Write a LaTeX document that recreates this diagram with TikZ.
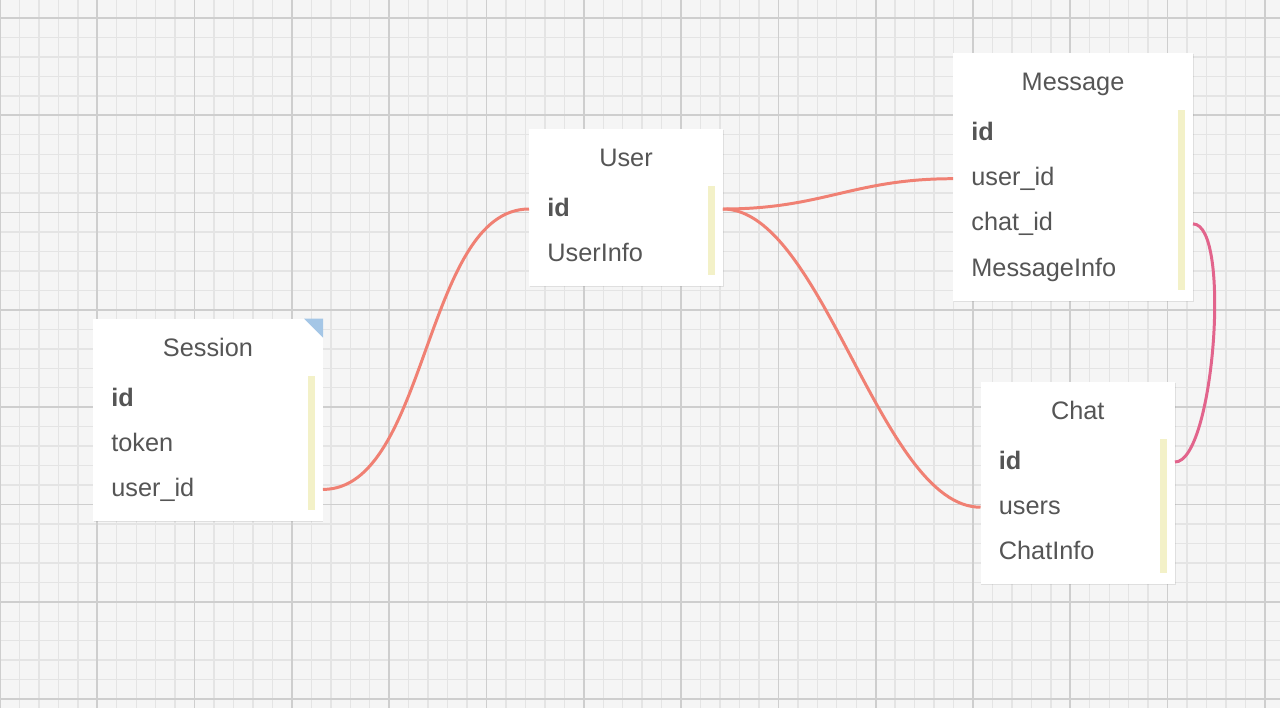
\documentclass[tikz,border=0pt]{standalone}
\usepackage{fontspec}
\setmainfont{Liberation Sans}
\usetikzlibrary{shadows}
\definecolor{gridbg}{RGB}{245,245,245}
\definecolor{minorline}{RGB}{228,228,228}
\definecolor{majorline}{RGB}{206,206,206}
\definecolor{textgray}{RGB}{85,85,85}
\definecolor{refline}{RGB}{240,128,115}
\definecolor{pinkline}{RGB}{226,100,140}
\definecolor{keybar}{RGB}{243,241,200}
\definecolor{notecorner}{RGB}{164,198,230}
\begin{document}
\begin{tikzpicture}[x=0.02cm,y=-0.02cm,
		minorgrid/.style={line width=0.8pt,minorline},
		majorgrid/.style={line width=1pt,majorline},
		table/.style 2 args={draw=none,fill=white,anchor=north west,inner sep=0,outer sep=0,
			minimum width=#1,minimum height=#2,
			drop shadow={opacity=0.18,shadow xshift=0.3pt,shadow yshift=-0.8pt}},
		title/.style={anchor=base,inner sep=0,text=textgray,font=\fontsize{14.4}{17}\selectfont},
		field/.style={anchor=west,inner sep=0,text height=0.36cm,text depth=0.08cm,
			text=textgray,font=\fontsize{14.4}{17}\selectfont},
		keyfield/.style={field,font=\fontsize{14.4}{17}\selectfont\bfseries},
		relline/.style={draw=refline,line width=1.7pt},
		chatline/.style={draw=pinkline,line width=1.7pt}]
	\useasboundingbox (0,0) rectangle (1280,708);

	%draw the grid paper
	\fill[gridbg] (0,0) rectangle (1280,708);
	\foreach \i in {0,...,65} \draw[minorgrid] (\i*19.46,0) -- (\i*19.46,708);
	\foreach \j in {0,...,37} \draw[minorgrid] (0,\j*19.46-1.46) -- (1280,\j*19.46-1.46);
	\foreach \i in {0,...,13} \draw[majorgrid] (\i*97.3,0) -- (\i*97.3,708);
	\foreach \j in {0,...,7} \draw[majorgrid] (0,\j*97.3+18) -- (1280,\j*97.3+18);

	%table Session
	\node[table={4.6cm}{4.052cm}] (session) at (93,318.5) {};
	\fill[notecorner] (304,318.5) -- (323,318.5) -- (323,337.5) -- cycle;
	\fill[keybar] (307.5,375.5) rectangle (315.3,510.1);
	\node[title] (session-title) at (208,356) {Session};
	\node[keyfield] (session-id) at (111,399) {id};
	\node[field] (session-token) at (111,444.2) {token};
	\node[field] (session-userid) at (111,489.4) {user\_id};

	%table User
	\node[table={3.88cm}{3.148cm}] (user) at (529,128.5) {};
	\fill[keybar] (707.5,185.5) rectangle (715.3,274.9);
	\node[title] (user-title) at (626,166) {User};
	\node[keyfield] (user-id) at (547,209) {id};
	\node[field] (user-info) at (547,254.2) {UserInfo};

	%table Message
	\node[table={4.8cm}{4.956cm}] (message) at (953,53) {};
	\fill[keybar] (1177.5,110) rectangle (1185.3,289.8);
	\node[title] (message-title) at (1073,90.5) {Message};
	\node[keyfield] (message-id) at (971,133.5) {id};
	\node[field] (message-userid) at (971,178.7) {user\_id};
	\node[field] (message-chatid) at (971,223.9) {chat\_id};
	\node[field] (message-info) at (971,269.1) {MessageInfo};

	%table Chat
	\node[table={3.89cm}{4.052cm}] (chat) at (980.5,381.5) {};
	\fill[keybar] (1159.5,438.5) rectangle (1167.3,573.1);
	\node[title] (chat-title) at (1077.75,419) {Chat};
	\node[keyfield] (chat-id) at (998.5,462) {id};
	\node[field] (chat-users) at (998.5,507.2) {users};
	\node[field] (chat-info) at (998.5,552.4) {ChatInfo};

	%draw the references
	\draw[relline] (session.east |- session-userid) .. controls +(105,0) and +(-105,0) .. (user.west |- user-id);
	\draw[relline] (user.east |- user-id) .. controls +(100,0) and +(-100,0) .. (message.west |- message-userid);
	\draw[relline] (user.east |- user-id) .. controls +(100,0) and +(-100,0) .. (chat.west |- chat-users);
	\draw[chatline] (message.east |- message-chatid) .. controls +(39,0) and +(39,0) .. (chat.east |- chat-id);
\end{tikzpicture}
\end{document}
